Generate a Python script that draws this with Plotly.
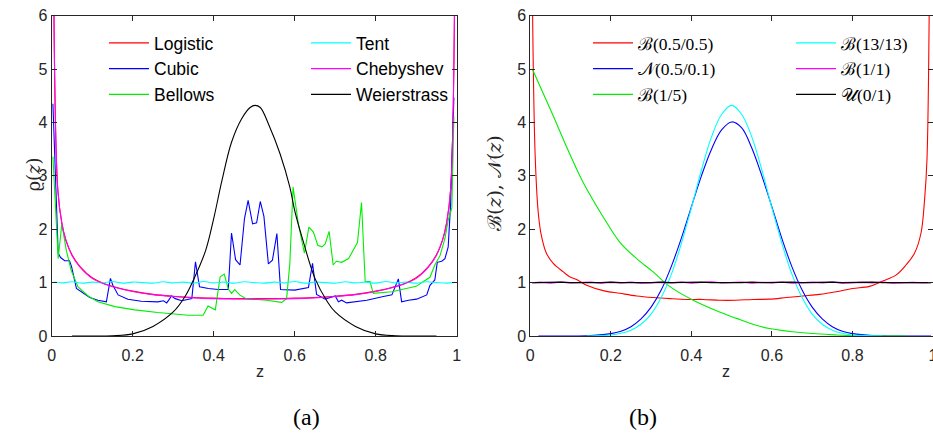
import plotly.graph_objects as go

# ---------------- panel (a) data ----------------
arc_x = [0.005, 0.015, 0.025, 0.035, 0.05, 0.07, 0.1, 0.13, 0.16, 0.2, 0.25, 0.3, 0.35, 0.4, 0.45, 0.5,
         0.55, 0.6, 0.65, 0.7, 0.75, 0.8, 0.84, 0.87, 0.9, 0.93, 0.95, 0.965, 0.975, 0.985, 0.995]
logistic = [6.5, 2.75, 2.12, 1.8, 1.52, 1.3, 1.09, 0.98, 0.91, 0.84, 0.78, 0.745, 0.72, 0.71, 0.70, 0.70,
            0.70, 0.71, 0.72, 0.745, 0.78, 0.84, 0.91, 0.98, 1.09, 1.3, 1.52, 1.8, 2.12, 2.75, 6.5]
chebyshev = [6.5, 2.74, 2.11, 1.79, 1.51, 1.29, 1.08, 0.975, 0.905, 0.835, 0.775, 0.74, 0.715, 0.70, 0.695, 0.69,
             0.695, 0.70, 0.715, 0.74, 0.775, 0.835, 0.905, 0.975, 1.08, 1.29, 1.51, 1.79, 2.11, 2.74, 6.5]

tent_x = [0.005, 0.025, 0.05, 0.075, 0.1, 0.125, 0.15, 0.175, 0.2, 0.225, 0.25, 0.275, 0.3, 0.325, 0.35,
          0.375, 0.4, 0.425, 0.45, 0.475, 0.5, 0.525, 0.55, 0.575, 0.6, 0.625, 0.65, 0.675, 0.7, 0.725,
          0.75, 0.775, 0.8, 0.825, 0.85, 0.875, 0.9, 0.925, 0.95, 0.975, 0.995]
tent = [1.01, 0.995, 1.015, 0.99, 1.01, 0.995, 1.02, 0.99, 1.01, 1.0, 0.99, 1.015, 0.995, 1.01, 0.99,
        1.02, 0.995, 1.01, 0.99, 1.015, 1.0, 0.99, 1.01, 0.995, 1.02, 0.99, 1.01, 1.0, 0.99, 1.015,
        0.995, 1.01, 0.99, 1.02, 0.995, 1.01, 0.99, 1.015, 1.0, 0.99, 1.005]

cubic_x = [0.003, 0.01, 0.016, 0.022, 0.032, 0.044, 0.049, 0.061, 0.073, 0.094, 0.114, 0.135, 0.145, 0.151,
           0.164, 0.188, 0.221, 0.262, 0.276, 0.284, 0.296, 0.305, 0.321, 0.346, 0.355, 0.365, 0.387, 0.411,
           0.436, 0.444, 0.454, 0.465, 0.476, 0.485, 0.496, 0.506, 0.515, 0.524, 0.535, 0.545, 0.556, 0.565,
           0.6, 0.634, 0.644, 0.654, 0.675, 0.7, 0.708, 0.716, 0.728, 0.778, 0.819, 0.84, 0.856, 0.864, 0.881,
           0.901, 0.926, 0.934, 0.946, 0.952, 0.963, 0.971, 0.979, 0.985, 0.993]
cubic = [4.35, 2.6, 1.55, 1.47, 1.41, 1.41, 1.3, 0.89, 0.83, 0.72, 0.67, 0.64, 1.08, 0.95,
         0.77, 0.69, 0.65, 0.64, 0.66, 0.62, 0.75, 0.70, 0.66, 0.70, 1.39, 0.92, 0.89, 0.87,
         0.87, 1.93, 1.43, 1.33, 2.2, 2.54, 2.1, 2.12, 2.52, 2.24, 1.35, 1.42, 1.92, 0.87,
         0.86, 0.91, 1.36, 0.78, 0.69, 0.75, 0.64, 0.67, 0.62, 0.67, 0.74, 0.77, 1.07, 0.64, 0.67,
         0.69, 0.77, 0.95, 1.05, 1.38, 1.40, 1.45, 1.67, 2.48, 4.47]

bel_x = [0.003, 0.016, 0.025, 0.036, 0.048, 0.065, 0.09, 0.114, 0.156, 0.205, 0.262, 0.3, 0.337, 0.374,
         0.386, 0.404, 0.416, 0.426, 0.436, 0.444, 0.452, 0.464, 0.48, 0.53, 0.568, 0.58, 0.588, 0.596,
         0.609, 0.624, 0.635, 0.646, 0.657, 0.667, 0.675, 0.685, 0.695, 0.703, 0.716, 0.733, 0.749, 0.755,
         0.765, 0.774, 0.786, 0.794, 0.84, 0.86, 0.9, 0.918, 0.934, 0.946, 0.959, 0.971, 0.979, 0.988, 0.993]
bellows = [3.36, 1.45, 2.1, 1.61, 1.23, 0.92, 0.75, 0.64, 0.55, 0.49, 0.44, 0.41, 0.39, 0.39,
           0.56, 0.49, 1.11, 1.16, 0.88, 0.80, 0.87, 0.77, 0.70, 0.67, 0.63, 0.70, 1.36, 2.79,
           2.1, 1.55, 2.04, 1.95, 1.70, 1.67, 1.72, 1.96, 1.33, 1.40, 1.38, 1.45, 1.67, 1.75,
           2.5, 1.02, 1.02, 0.80, 0.83, 0.86, 0.93, 1.02, 1.10, 1.33, 1.51, 1.83, 2.17, 2.4, 4.11]

weier_x = [0.05, 0.1, 0.15, 0.2, 0.25, 0.3, 0.33, 0.35, 0.38, 0.4, 0.42, 0.444, 0.469, 0.49, 0.502,
           0.515, 0.537, 0.564, 0.588, 0.6, 0.62, 0.65, 0.68, 0.7, 0.75, 0.8, 0.85, 0.9, 0.95]
weier = [0.0, 0.0, 0.005, 0.04, 0.18, 0.45, 0.75, 1.05, 1.6, 2.2, 2.9, 3.63, 4.07, 4.28, 4.32,
         4.28, 3.94, 3.41, 2.79, 2.35, 1.8, 1.08, 0.65, 0.45, 0.18, 0.04, 0.005, 0.0, 0.0]

# ---------------- panel (b) data ----------------
b05_x = [0.005, 0.012, 0.02, 0.028, 0.04, 0.057, 0.082, 0.098, 0.115, 0.14, 0.181, 0.222, 0.264, 0.305,
         0.346, 0.388, 0.429, 0.47, 0.51, 0.553, 0.594, 0.636, 0.677, 0.718, 0.76, 0.8, 0.842, 0.875,
         0.908, 0.933, 0.954, 0.97, 0.979, 0.985, 0.991]
b05 = [6.5, 3.4, 2.29, 1.86, 1.55, 1.36, 1.2, 1.11, 1.06, 0.95, 0.85, 0.80, 0.75, 0.72,
       0.70, 0.685, 0.685, 0.67, 0.67, 0.685, 0.69, 0.72, 0.75, 0.78, 0.83, 0.89, 0.93, 1.03,
       1.14, 1.33, 1.55, 1.92, 2.54, 3.3, 6.5]

norm_x = [0.02, 0.1, 0.15, 0.2, 0.225, 0.25, 0.275, 0.3, 0.325, 0.35, 0.375, 0.4, 0.425, 0.45, 0.475, 0.5,
          0.525, 0.55, 0.575, 0.6, 0.625, 0.65, 0.675, 0.7, 0.725, 0.75, 0.775, 0.8, 0.85, 0.93, 0.995]
norm = [0.0, 0.0, 0.01, 0.045, 0.09, 0.175, 0.32, 0.54, 0.86, 1.30, 1.83, 2.42, 3.0, 3.5, 3.86, 4.01,
        3.9, 3.52, 3.0, 2.42, 1.82, 1.29, 0.86, 0.54, 0.32, 0.175, 0.09, 0.045, 0.008, 0.0, 0.0]

b15_x = [0.005, 0.053, 0.098, 0.131, 0.181, 0.222, 0.264, 0.305, 0.346, 0.402, 0.47, 0.512, 0.553, 0.594,
         0.677, 0.76, 0.84, 0.933]
b15 = [5.0, 4.19, 3.41, 2.88, 2.23, 1.76, 1.45, 1.2, 0.93, 0.68, 0.45, 0.33, 0.22, 0.14,
       0.06, 0.02, 0.0, 0.0]

b13_x = [0.14, 0.2, 0.225, 0.25, 0.275, 0.3, 0.325, 0.35, 0.375, 0.4, 0.425, 0.45, 0.475, 0.5,
         0.525, 0.55, 0.575, 0.6, 0.625, 0.65, 0.675, 0.7, 0.725, 0.75, 0.775, 0.8, 0.875]
b13 = [0.0, 0.02, 0.05, 0.11, 0.22, 0.41, 0.72, 1.15, 1.73, 2.4, 3.11, 3.73, 4.15, 4.32,
       4.15, 3.73, 3.11, 2.4, 1.73, 1.15, 0.72, 0.41, 0.22, 0.11, 0.05, 0.02, 0.0]

flat_x = tent_x
b11 = [0.995, 1.005, 0.99, 1.01, 0.995, 1.0, 1.01, 0.99, 1.005, 0.995, 1.01, 0.99, 1.0, 1.005, 0.995,
       1.01, 0.99, 1.0, 1.015, 0.995, 1.0, 1.01, 0.99, 1.005, 0.995, 1.01, 0.99, 1.0, 1.005, 0.995,
       1.01, 0.99, 1.0, 1.005, 0.995, 1.01, 0.99, 1.0, 1.005, 0.995, 1.0]
unif = [1.0, 1.005, 1.0, 1.01, 1.0, 1.005, 1.0, 1.0, 1.01, 1.0, 1.005, 1.0, 1.0, 1.01, 1.0,
        1.005, 1.0, 1.01, 1.0, 1.005, 1.0, 1.0, 1.01, 1.0, 1.005, 1.0, 1.01, 1.0, 1.005, 1.0,
        1.01, 1.0, 1.005, 1.0, 1.01, 1.0, 1.005, 1.0, 1.0, 1.005, 1.0]

# ---------------- figure ----------------
W, H = 933, 448
def px(x): return x / W          # window x -> paper x
def py(y): return 1 - y / H      # window y -> paper y

fig = go.Figure()

def add(x, y, name, color, xa, ya, leg, shape="linear"):
    fig.add_trace(go.Scatter(x=x, y=y, name=name, mode="lines",
                             line=dict(color=color, width=1.1, shape=shape),
                             xaxis=xa, yaxis=ya, legend=leg, hoverinfo="skip"))

add(arc_x, logistic, "Logistic", "#ff0000", "x", "y", "legend", "spline")
add(cubic_x, cubic, "Cubic", "#0000ff", "x", "y", "legend")
add(bel_x, bellows, "Bellows", "#00ee00", "x", "y", "legend")
add(tent_x, tent, "Tent", "#00ffff", "x", "y", "legend2", "spline")
add(arc_x, chebyshev, "Chebyshev", "#ff00ff", "x", "y", "legend2", "spline")
add(weier_x, weier, "Weierstrass", "#000000", "x", "y", "legend2", "spline")

add(b05_x, b05, "ℬ(0.5/0.5)", "#ff0000", "x2", "y2", "legend3", "spline")
add(norm_x, norm, "𝒩(0.5/0.1)", "#0000ff", "x2", "y2", "legend3", "spline")
add(b15_x, b15, "ℬ(1/5)", "#00ee00", "x2", "y2", "legend3", "spline")
add(b13_x, b13, "ℬ(13/13)", "#00ffff", "x2", "y2", "legend4", "spline")
add(flat_x, b11, "ℬ(1/1)", "#ff00ff", "x2", "y2", "legend4")
add(flat_x, unif, "𝒰(0/1)", "#000000", "x2", "y2", "legend4")

xticks = [0, 0.2, 0.4, 0.6, 0.8, 1]
xticktext = ["0", "0.2", "0.4", "0.6", "0.8", "1"]
yticks = [0, 1, 2, 3, 4, 5, 6]
tickfont = dict(family="Liberation Sans, Arial, sans-serif", size=16, color="#262626")
axis_common = dict(showgrid=False, zeroline=False, showline=True, linecolor="#262626", linewidth=1,
                   mirror="ticks", ticks="inside", ticklen=5, tickcolor="#262626", tickwidth=1,
                   tickfont=tickfont, automargin=False, ticklabeloverflow="allow")

ydom = [py(336), py(15.7)]
fig.update_layout(
    width=W, height=H, margin=dict(l=0, r=0, t=0, b=0, autoexpand=False),
    paper_bgcolor="white", plot_bgcolor="white",
    xaxis=dict(domain=[px(51.7), px(456.7)], range=[0, 1], tickvals=xticks, ticktext=xticktext,
               anchor="y", ticklabelstandoff=5, **axis_common),
    yaxis=dict(domain=ydom, range=[0, 6], tickvals=yticks, anchor="x", **axis_common),
    xaxis2=dict(domain=[px(530.3), 1.0], range=[0, 1], tickvals=xticks, ticktext=xticktext,
                anchor="y2", ticklabelstandoff=5, **axis_common),
    yaxis2=dict(domain=ydom, range=[0, 6], tickvals=yticks, anchor="x2", **axis_common),
    showlegend=True,
)

leg_common = dict(bgcolor="rgba(0,0,0,0)", borderwidth=0, xanchor="left", yanchor="top",
                  itemwidth=40)
sans = dict(family="Liberation Sans, Arial, sans-serif", size=17.5, color="#000000")
serif = dict(family="Liberation Serif, serif", size=17.5, color="#000000")
fig.update_layout(
    legend=dict(x=px(104), y=py(25), font=sans, **leg_common),
    legend2=dict(x=px(306), y=py(25), font=sans, **leg_common),
    legend3=dict(x=px(588), y=py(25), font=serif, **leg_common),
    legend4=dict(x=px(791), y=py(25), font=serif, **leg_common),
)

ann = []
ann.append(dict(text="z", x=px(254), y=py(382), xref="paper", yref="paper", showarrow=False,
                font=dict(family="Liberation Sans, Arial, sans-serif", size=16, color="#262626")))
ann.append(dict(text="z", x=px(731.6), y=py(382), xref="paper", yref="paper", showarrow=False,
                font=dict(family="Liberation Sans, Arial, sans-serif", size=16, color="#262626")))
ann.append(dict(text="(a)", x=px(291), y=py(432), xref="paper", yref="paper", showarrow=False,
                font=dict(family="Liberation Serif, serif", size=24, color="#000000")))
ann.append(dict(text="(b)", x=px(659), y=py(432), xref="paper", yref="paper", showarrow=False,
                font=dict(family="Liberation Serif, serif", size=24, color="#000000")))
ann.append(dict(text="ϱ(<i>z</i>)", x=px(20), y=py(175), xref="paper", yref="paper", showarrow=False,
                textangle=-90, font=dict(family="DejaVu Serif, serif", size=18, color="#262626")))
ann.append(dict(text="ℬ(<i>z</i>), 𝒩(<i>z</i>)", x=px(494), y=py(183), xref="paper", yref="paper",
                showarrow=False, textangle=-90,
                font=dict(family="DejaVu Serif, serif", size=19, color="#262626")))
fig.update_layout(annotations=ann)

# remove the default 8px page margin so the figure fills the 933x448 window exactly
fig.write_html("out.html", config={"displayModeBar": False},
               post_script="document.body.style.margin='0';document.body.style.overflow='hidden';")
